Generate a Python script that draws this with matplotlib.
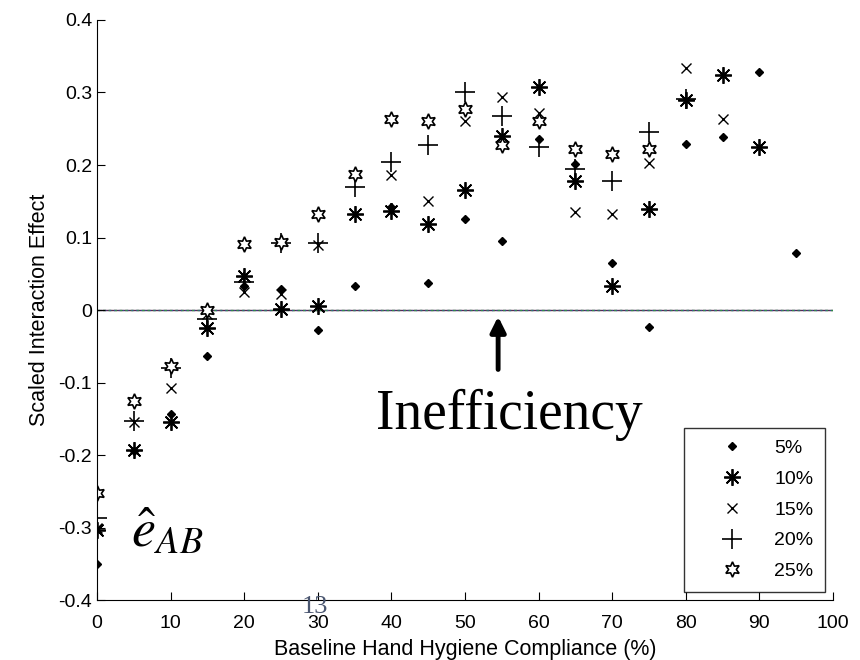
import numpy as np
import matplotlib
matplotlib.use("Agg")
import matplotlib.pyplot as plt

# baseline compliance (%) and scaled interaction effect per improvement level
x_5 = [0, 5, 10, 15, 20, 25, 30, 35, 40, 45, 50, 55, 60, 65, 70, 75, 80, 85, 90, 95]
y_5 = [-0.350, -0.195, -0.143, -0.064, 0.033, 0.029, -0.027, 0.033, 0.142, 0.037,
       0.126, 0.095, 0.236, 0.201, 0.065, -0.023, 0.229, 0.239, 0.328, 0.079]
x_10 = [0, 5, 10, 15, 20, 25, 30, 35, 40, 45, 50, 55, 60, 65, 70, 75, 80, 85, 90]
y_10 = [-0.303, -0.193, -0.155, -0.025, 0.047, 0.001, 0.005, 0.132, 0.137, 0.119,
        0.166, 0.240, 0.308, 0.178, 0.033, 0.139, 0.290, 0.324, 0.225]
x_15 = [0, 5, 10, 15, 20, 25, 30, 35, 40, 45, 50, 55, 60, 65, 70, 75, 80, 85]
y_15 = [-0.300, -0.155, -0.108, -0.005, 0.025, 0.022, 0.090, 0.132, 0.186, 0.150,
        0.261, 0.294, 0.272, 0.135, 0.132, 0.203, 0.334, 0.263]
x_20 = [0, 5, 10, 15, 20, 25, 30, 35, 40, 45, 50, 55, 60, 65, 70, 75, 80]
y_20 = [-0.287, -0.153, -0.080, -0.013, 0.038, 0.093, 0.093, 0.170, 0.204, 0.228,
        0.300, 0.268, 0.225, 0.194, 0.178, 0.246, 0.291]
x_25 = [0, 5, 10, 15, 20, 25, 30, 35, 40, 45, 50, 55, 60, 65, 70, 75]
y_25 = [-0.252, -0.126, -0.077, 0.000, 0.091, 0.094, 0.132, 0.188, 0.263, 0.261,
        0.277, 0.228, 0.260, 0.222, 0.215, 0.222]

labels = ["5%", "10%", "15%", "20%", "25%"]
ytick_labels = ["-0.4", "-0.3", "-0.2", "-0.1", "0", "0.1", "0.2", "0.3", "0.4"]

plt.rcParams["font.family"] = ["Liberation Sans", "DejaVu Sans"]
serif = ["Liberation Serif", "DejaVu Serif"]

fig = plt.figure(figsize=(8.6, 6.6), dpi=100)
ax = fig.add_axes([0.1128, 0.0909, 0.8558, 0.8788])

# zero reference lines
ax.axhline(0, color="#5a2a55", lw=1.0, zorder=1)
ax.axhline(0, color="#2e8a4a", lw=1.0, ls=(0, (2, 2)), zorder=1)
ax.axhline(0, color="#3a4aa0", lw=0.8, ls=(1, (1, 3)), zorder=1)

ax.plot(x_5, y_5, ls="none", marker="D", ms=4, color="black", label=labels[0])
ax.plot(x_10, y_10, ls="none", marker=(8, 2, 0), ms=12, mew=1.3, color="black", label=labels[1])
ax.plot(x_15, y_15, ls="none", marker="x", ms=7, mew=1.0, color="black", label=labels[2])
ax.plot(x_20, y_20, ls="none", marker="+", ms=14, mew=1.2, color="black", label=labels[3])
ax.plot(x_25, y_25, ls="none", marker=(6, 1, 0), ms=11, mew=1.2, mfc="white", mec="black",
        label=labels[4])

ax.set_xlim(0, 100)
ax.set_ylim(-0.4, 0.4)
ax.set_xticks(np.arange(0, 101, 10))
ax.set_yticks(np.arange(-0.4, 0.41, 0.1))
ax.set_yticklabels(ytick_labels)
ax.tick_params(direction="in", length=6, labelsize=14, colors="black")
ax.tick_params(axis="x", pad=11)
ax.spines["top"].set_visible(False)
ax.spines["right"].set_visible(False)
ax.set_xlabel("Baseline Hand Hygiene Compliance (%)", fontsize=15.5, labelpad=5)
ax.set_ylabel("Scaled Interaction Effect", fontsize=15.5, labelpad=6)

leg = ax.legend(loc="lower right", bbox_to_anchor=(0.989, 0.014), fontsize=14,
                frameon=True, fancybox=False, edgecolor="black", labelspacing=0.68,
                handletextpad=0.25, borderpad=0.6, handlelength=3.8, borderaxespad=0)
leg.get_frame().set_linewidth(1.0)

# annotations
ax.annotate("", xy=(54.5, -0.009), xytext=(54.5, -0.082),
            arrowprops=dict(arrowstyle="-|>,head_width=0.45,head_length=0.9", lw=3.5,
                            color="black", shrinkA=0, shrinkB=0))
ax.text(56.0, -0.164, "Inefficiency", ha="center", va="baseline", fontsize=40, family=serif)
ax.text(4.6, -0.327, r"$\hat{e}_{AB}$", ha="left", va="baseline", fontsize=39,
        math_fontfamily="stix")
fig.text(0.366, 0.080, "13", ha="center", va="center", fontsize=19, color="#4a5670",
         family=serif)

fig.savefig("out.png", dpi=100)
